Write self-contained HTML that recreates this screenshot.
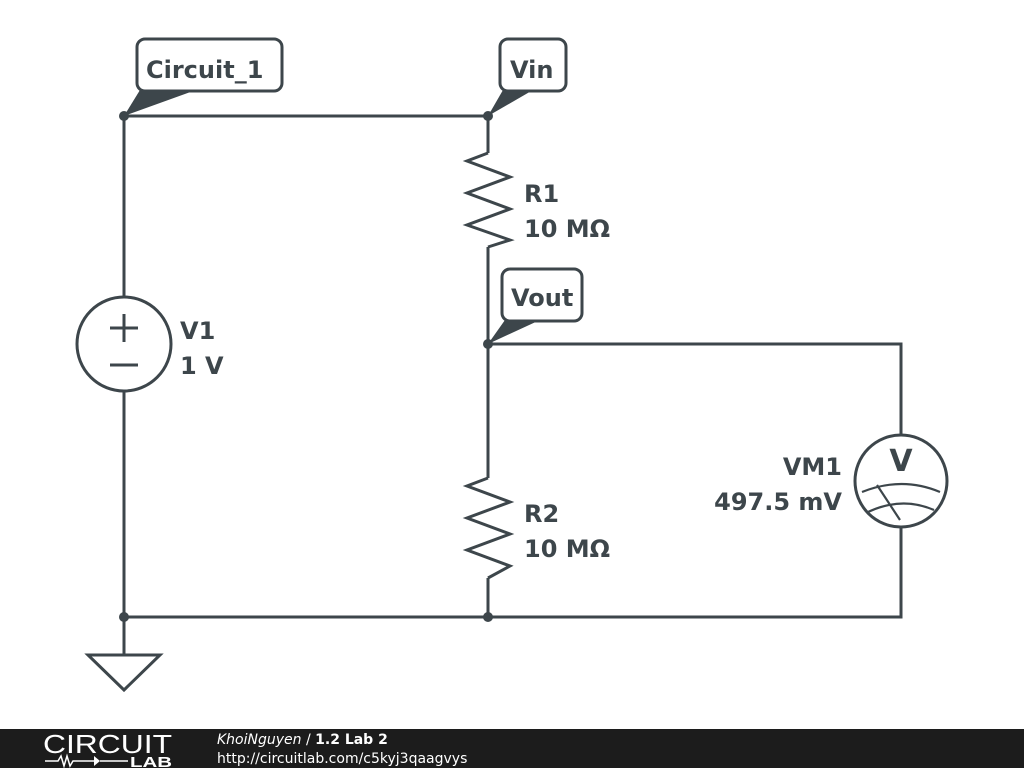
<!DOCTYPE html>
<html><head><style>
body{margin:0;width:1024px;height:768px;background:#fff;overflow:hidden;font-family:"Liberation Sans",sans-serif}
</style></head><body>
<svg width="1024" height="768" viewBox="0 0 1024 768" xmlns="http://www.w3.org/2000/svg">
<g stroke="#3d464b" stroke-width="3" fill="none" stroke-linejoin="miter">
<path d="M124 116H488V153"/>
<path d="M488 247V478"/>
<path d="M488 344H901V435"/>
<path d="M901 527V617H124"/>
<path d="M488 578V617"/>
<path d="M124 116V297"/>
<path d="M124 391V655"/>
<polyline points="488,153 467,161 510,177 467,193 510,209 467,225 510,240 488,247"/>
<polyline points="488,478 467,486 510,502 467,518 510,534 467,550 510,566 488,578"/>
<circle cx="124" cy="344" r="47"/>
<path d="M110 328H138M124 314V342M110 365H138"/>
<circle cx="901" cy="481" r="46"/>
<path d="M862 492Q902 476 940 492M868 512Q902 496 934 510M877 485L900 520" stroke-width="2.2"/>
<polygon points="88,655 160,655 124,690"/>
<rect x="137" y="39" width="145" height="52" rx="8"/>
<rect x="500" y="39" width="66" height="52" rx="8"/>
<rect x="502" y="269" width="80" height="52" rx="8"/>
</g>
<g fill="#3d464b">
<polygon points="140,90 196,90 124,116"/>
<polygon points="503,90 533,90 488,116"/>
<polygon points="505,320 540,320 488,344"/>
<circle cx="124" cy="116" r="5"/><circle cx="488" cy="116" r="5"/>
<circle cx="488" cy="344" r="5"/><circle cx="124" cy="617" r="5"/><circle cx="488" cy="617" r="5"/>
</g>
<g fill="#3d464b" font-weight="bold" font-size="24" font-family="DejaVu Sans, sans-serif">
<text x="146" y="78">Circuit_1</text>
<text x="510" y="78">Vin</text>
<text x="511" y="306">Vout</text>
<text x="524" y="202">R1</text><text x="524" y="237">10 MΩ</text>
<text x="524" y="522">R2</text><text x="524" y="557">10 MΩ</text>
<text x="180" y="339">V1</text><text x="180" y="374">1 V</text>
<text x="842" y="475" text-anchor="end">VM1</text><text x="842" y="510" text-anchor="end">497.5 mV</text>
<text x="901" y="471" text-anchor="middle" font-size="30">V</text>
</g>
<rect x="0" y="729" width="1024" height="39" fill="#1c1c1c"/>
<text x="43" y="753" fill="#fff" font-size="26" textLength="129" lengthAdjust="spacingAndGlyphs" style="font-weight:300">CIRCUIT</text>
<path d="M45 761H58L61 756L64 766L67 756L70 766L73 761H94M100 761H128" stroke="#fff" stroke-width="1.5" fill="none"/>
<polygon points="94,756 94,766 100,761" fill="#fff"/>
<text x="130" y="767" fill="#fff" font-size="15" font-weight="bold" textLength="42" lengthAdjust="spacingAndGlyphs">LAB</text>
<text x="217" y="744" fill="#fff" font-size="14" font-family="DejaVu Sans"><tspan font-style="italic">KhoiNguyen</tspan> / <tspan font-weight="bold">1.2 Lab 2</tspan></text>
<text x="217" y="763" fill="#fff" font-size="14" font-family="DejaVu Sans">http://circuitlab.com/c5kyj3qaagvys</text>
</svg>
</body></html>
